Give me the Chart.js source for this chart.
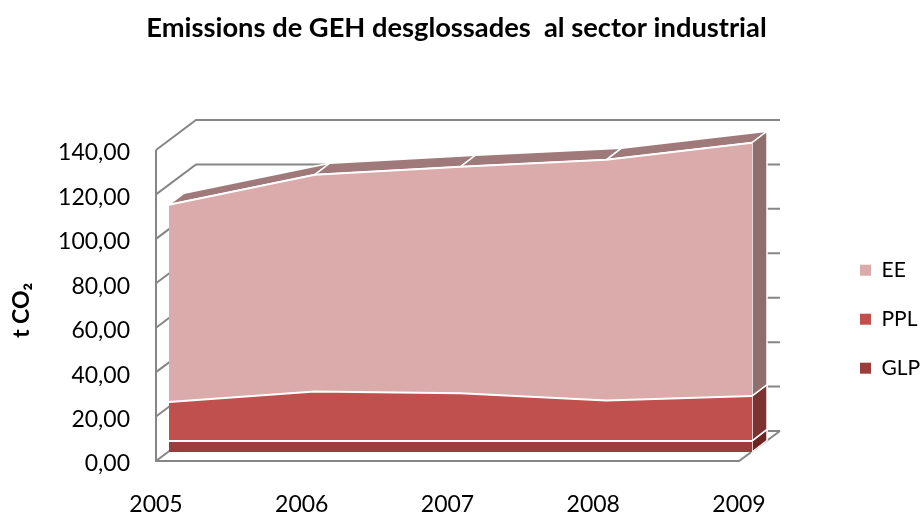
<!DOCTYPE html>
<html><head><meta charset="utf-8">
<style>html,body{margin:0;padding:0;background:#fff}#w{width:922px;height:514px}</style>
<script src="https://cdn.jsdelivr.net/npm/chart.js@4/dist/chart.umd.min.js"></script>
</head><body><div id="w"><canvas id="c"></canvas></div>
<script>
const categories = ['2005','2006','2007','2008','2009'];
const GLP = [5.0,5.0,5.0,5.0,5.0];
const PPL = [17.5,22.2,21.4,18.2,20.2];
const EE  = [88.8,97.6,102.0,108.3,114.0];
const yTickLabels = ['0,00','20,00','40,00','60,00','80,00','100,00','120,00','140,00'];
const titleText = 'Emissions de GEH desglossades  al sector industrial';
const FONT = 'Lato, Carlito, sans-serif';

const wall = {front:{dx:-13,dy:9}, back:{dx:27,dy:-21}, depth:{dx:15,dy:-11.5}, right:780};
const faces = [
  {top:'#8f3533',side:'#6c2523'},
  {top:'#a5403d',side:'#7b3230'},
  {top:'#a07a7a',side:'#8e6f6c'}
];
function poly(ctx,pts,fill){
  ctx.beginPath();pts.forEach((p,i)=>i?ctx.lineTo(p[0],p[1]):ctx.moveTo(p[0],p[1]));ctx.closePath();
  ctx.fillStyle=fill;ctx.fill();ctx.strokeStyle='#fff';ctx.lineWidth=1.5;ctx.stroke();
}
const walls3d = {
  id:'walls3d',
  afterLayout(chart){const t=chart.titleBlock;t.left-=4.5;t.right-=4.5;},
  beforeDatasetsDraw(chart){
    const {ctx,scales:{x,y}}=chart, f=wall.front,b=wall.back,d=wall.depth;
    const x0=x.getPixelForValue(0), x1=x.getPixelForValue(categories.length-1);
    ctx.save();
    ctx.strokeStyle='#868686';ctx.lineWidth=2;ctx.lineCap='butt';
    y.ticks.forEach((t,i)=>{
      const py=y.getPixelForTick(i);
      ctx.beginPath();
      ctx.moveTo(x0+f.dx,py+f.dy);ctx.lineTo(x0+b.dx,py+b.dy);ctx.lineTo(wall.right,py+b.dy);
      ctx.stroke();
    });
    const top=y.getPixelForValue(y.max), zero=y.getPixelForValue(0);
    ctx.beginPath();
    ctx.moveTo(x0+f.dx,top+f.dy);ctx.lineTo(x0+f.dx,zero+f.dy);ctx.lineTo(x1+f.dx,zero+f.dy);ctx.lineTo(wall.right,zero+b.dy);
    ctx.stroke();
    chart.data.datasets.forEach((ds,k)=>{
      const pts=chart.getDatasetMeta(k).data;
      const below=k?chart.getDatasetMeta(k-1).data:null;
      for(let i=0;i<pts.length-1;i++){
        const a=pts[i],c=pts[i+1];
        poly(ctx,[[a.x,a.y],[c.x,c.y],[c.x+d.dx,c.y+d.dy],[a.x+d.dx,a.y+d.dy]],faces[k].top);
      }
      const e=pts[pts.length-1], yb=below?below[below.length-1].y:zero;
      poly(ctx,[[e.x,e.y],[e.x+d.dx,e.y+d.dy],[e.x+d.dx,yb+d.dy],[e.x,yb]],faces[k].side);
    });
    ctx.restore();
  }
};
new Chart(document.getElementById('c'),{
  type:'line',
  data:{labels:categories,datasets:[
    {label:'GLP',data:GLP,backgroundColor:'#9b3d3b',fill:'origin'},
    {label:'PPL',data:PPL,backgroundColor:'#c0504d',fill:'-1'},
    {label:'EE',data:EE,backgroundColor:'#dbaaaa',fill:'-1'}
  ]},
  options:{
    responsive:true,maintainAspectRatio:false,animation:false,
    elements:{point:{radius:0},line:{tension:0,borderColor:'#fff',borderWidth:2}},
    plugins:{
      tooltip:{enabled:false},
      title:{display:true,text:titleText,color:'#000',font:{family:FONT,size:27.3,weight:'bold',lineHeight:1.2},padding:{top:12,bottom:96.2}},
      legend:{position:'right',maxWidth:90,reverse:true,
        title:{display:true,text:' ',font:{size:12},padding:55},
        labels:{color:'#000',boxWidth:11,boxHeight:11,padding:28,font:{family:FONT,size:21},
          generateLabels(chart){return Chart.defaults.plugins.legend.labels.generateLabels(chart).map(l=>({...l,lineWidth:0}));}}}
    },
    scales:{
      x:{offset:false,grid:{display:false},border:{display:false},
        afterFit(s){s.height=62;},
        ticks:{color:'#000',font:{family:FONT,size:23},padding:31,labelOffset:-13,maxRotation:0,autoSkip:false}},
      y:{stacked:true,min:0,max:140,grid:{display:false},border:{display:false},
        afterFit(s){s.width=169;},
        title:{display:true,text:'t CO₂     ',color:'#000',font:{family:FONT,size:23,weight:'bold'},padding:{top:8,bottom:0}},
        ticks:{stepSize:20,color:'#000',font:{family:FONT,size:23},padding:31,labelOffset:12,
          callback(v,i){return yTickLabels[i];}}},
      yr:{position:'right',grid:{display:false},border:{display:false},ticks:{display:false},afterFit(s){s.width=80;}}
    }
  },
  plugins:[walls3d]
});
</script></body></html>
